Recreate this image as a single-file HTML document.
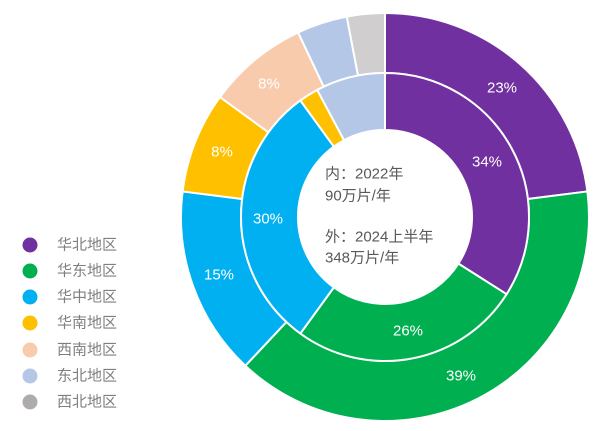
<!DOCTYPE html>
<html><head><meta charset="utf-8"><style>
body{margin:0;background:#fff;width:616px;height:426px;overflow:hidden}
text{font-family:"Liberation Sans","Noto Sans CJK SC",sans-serif}
</style></head><body>
<svg id="s" width="616" height="426" xmlns="http://www.w3.org/2000/svg">
<g id="g"></g>
<g font-size="15" fill="#fff" text-anchor="middle" dominant-baseline="central">
<text x="502" y="88">23%</text><text x="487" y="162">34%</text>
<text x="268" y="219">30%</text><text x="219" y="275">15%</text>
<text x="222" y="152">8%</text><text x="269" y="84">8%</text>
<text x="408" y="331">26%</text><text x="461" y="376">39%</text>
</g>
<g font-size="15" fill="#595959" dominant-baseline="central">
<text x="325" y="174">内：2022年</text><text x="325" y="196">90万片/年</text>
<text x="325" y="237">外：2024上半年</text><text x="325" y="258">348万片/年</text>
</g>
<g font-size="15" fill="#7f7f7f" dominant-baseline="central">
<circle cx="30" cy="245" r="7.5" fill="#7030A0"/><text x="57" y="245">华北地区</text>
<circle cx="30" cy="271" r="7.5" fill="#00B050"/><text x="57" y="271">华东地区</text>
<circle cx="30" cy="297" r="7.5" fill="#00B0F0"/><text x="57" y="297">华中地区</text>
<circle cx="30" cy="323" r="7.5" fill="#FFC000"/><text x="57" y="323">华南地区</text>
<circle cx="30" cy="350" r="7.5" fill="#F8CBAD"/><text x="57" y="350">西南地区</text>
<circle cx="30" cy="376" r="7.5" fill="#B4C7E7"/><text x="57" y="376">东北地区</text>
<circle cx="30" cy="402" r="7.5" fill="#AFABAB"/><text x="57" y="402">西北地区</text>
</g>
</svg>
<script>
var cx=385,cy=217,g=document.getElementById('g');
function P(r,a){a=a*Math.PI/180;return (cx+r*Math.sin(a)).toFixed(2)+','+(cy-r*Math.cos(a)).toFixed(2);}
function ring(r0,r1,vals,cols){var a=0;for(var i=0;i<vals.length;i++){var b=a+vals[i]*3.6,l=(b-a)>180?1:0;
var d='M'+P(r1,a)+'A'+r1+','+r1+' 0 '+l+' 1 '+P(r1,b)+'L'+P(r0,b)+'A'+r0+','+r0+' 0 '+l+' 0 '+P(r0,a)+'Z';
var p=document.createElementNS('http://www.w3.org/2000/svg','path');p.setAttribute('d',d);p.setAttribute('fill',cols[i]);
p.setAttribute('stroke','#fff');p.setAttribute('stroke-width','2');g.appendChild(p);a=b;}}
ring(144,204,[23,39,15,8,8,4,3],['#7030A0','#00B050','#00B0F0','#FFC000','#F8CBAD','#B4C7E7','#D0CECE']);
ring(87,144,[34,26,30,2.2,7.8],['#7030A0','#00B050','#00B0F0','#FFC000','#B4C7E7']);
</script>
</body></html>
